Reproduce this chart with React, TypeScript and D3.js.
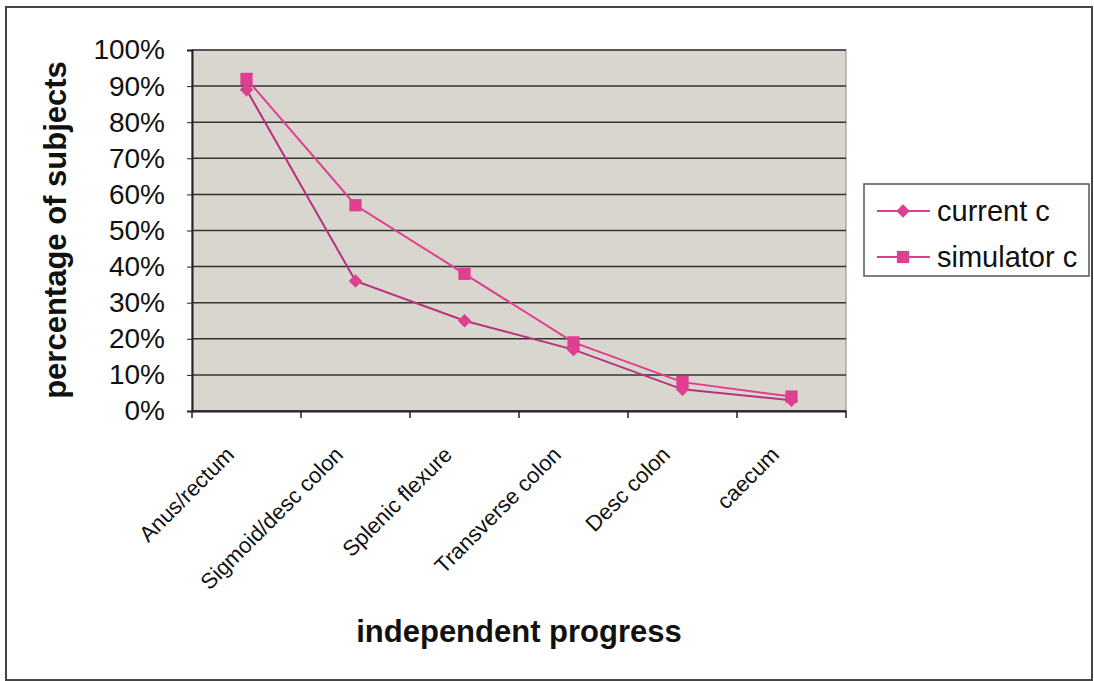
import * as React from "react";
import * as d3 from "d3";

const categories = ["Anus/rectum", "Sigmoid/desc colon", "Splenic flexure", "Transverse colon", "Desc colon", "caecum"];
const currentC = [89, 36, 25, 17, 6, 3];
const simulatorC = [92, 57, 38, 19, 8, 4];
const yTicks = [0, 10, 20, 30, 40, 50, 60, 70, 80, 90, 100];

const W = 1094, H = 681;
const margin = { left: 192, top: 50, right: 248, bottom: 270 };
const pink = "#de3f8e";
const font = "Arial, 'Liberation Sans', sans-serif";

export default function App() {
  const ref = React.useRef<SVGSVGElement>(null);

  React.useEffect(() => {
    const svg = d3.select(ref.current);
    svg.selectAll("*").remove();
    const pw = W - margin.left - margin.right;
    const ph = H - margin.top - margin.bottom;

    // outer frame
    svg.append("rect").attr("x", 6).attr("y", 7).attr("width", 1086).attr("height", 673)
      .attr("fill", "#fff").attr("stroke", "#444").attr("stroke-width", 2);

    const x = d3.scaleBand().domain(categories).range([0, pw]);
    const y = d3.scaleLinear().domain([0, 100]).range([ph, 0]);

    const g = svg.append("g").attr("transform", `translate(${margin.left},${margin.top})`);

    g.append("rect").attr("width", pw).attr("height", ph).attr("fill", "#d9d6cf")
      .attr("stroke", "#888").attr("stroke-width", 1);

    // gridlines
    g.selectAll(".grid").data(yTicks).enter().append("line")
      .attr("x1", 0).attr("x2", pw).attr("y1", d => y(d)).attr("y2", d => y(d))
      .attr("stroke", "#333").attr("stroke-width", 1.5);

    // y axis
    const yAxis = g.append("g").call(d3.axisLeft(y).tickValues(yTicks).tickSize(5).tickFormat(d => d + "%"));
    yAxis.select(".domain").attr("stroke", "#222").attr("stroke-width", 2);
    yAxis.selectAll("line").attr("stroke", "#222");
    yAxis.selectAll("text").attr("font-family", font)
      .attr("font-size", 28).attr("fill", "#111").attr("dx", -19);

    // x axis
    const xAxis = g.append("g").attr("transform", `translate(0,${ph})`)
      .call(d3.axisBottom(x).tickSize(0).tickFormat(() => ""));
    xAxis.select(".domain").attr("stroke", "#222").attr("stroke-width", 2);
    const bounds = d3.range(categories.length + 1).map(i => i * x.bandwidth());
    xAxis.selectAll(".bt").data(bounds).enter().append("line")
      .attr("x1", d => d).attr("x2", d => d).attr("y1", 0).attr("y2", 7)
      .attr("stroke", "#222").attr("stroke-width", 1.5);
    g.selectAll(".xl").data(categories).enter().append("text")
      .attr("transform", d => `translate(${(x(d) as number) + x.bandwidth() / 2 - 11},${ph + 45}) rotate(-45)`)
      .attr("text-anchor", "end")
      .attr("font-family", font).attr("font-size", 22).attr("fill", "#111")
      .text(d => d);

    const cx = (i: number) => (x(categories[i]) as number) + x.bandwidth() / 2;
    const line = d3.line<number>().x((_, i) => cx(i)).y(d => y(d));

    g.append("path").datum(simulatorC).attr("d", line).attr("fill", "none").attr("stroke", pink).attr("stroke-width", 2);
    g.append("path").datum(currentC).attr("d", line).attr("fill", "none").attr("stroke", "#b8337f").attr("stroke-width", 2);

    const sq = d3.symbol().type(d3.symbolSquare).size(150);
    const di = d3.symbol().type(d3.symbolSquare).size(90);
    g.selectAll(".sm").data(simulatorC).enter().append("path")
      .attr("d", sq).attr("transform", (d, i) => `translate(${cx(i)},${y(d)})`).attr("fill", pink);
    g.selectAll(".cm").data(currentC).enter().append("path")
      .attr("d", di).attr("transform", (d, i) => `translate(${cx(i)},${y(d)}) rotate(45)`).attr("fill", pink);

    // axis titles
    svg.append("text").attr("transform", `translate(66,230) rotate(-90)`).attr("text-anchor", "middle")
      .attr("font-family", font).attr("font-weight", "bold").attr("font-size", 31)
      .attr("fill", "#111").text("percentage of subjects");
    svg.append("text").attr("x", 519).attr("y", 642).attr("text-anchor", "middle")
      .attr("font-family", font).attr("font-weight", "bold").attr("font-size", 31)
      .attr("fill", "#111").text("independent progress");

    // legend
    const lg = svg.append("g").attr("transform", "translate(864,184)");
    lg.append("rect").attr("width", 225).attr("height", 92).attr("fill", "#fff").attr("stroke", "#555").attr("stroke-width", 1.5);
    const items = [{ name: "current c", sym: di, rot: 45 }, { name: "simulator c", sym: sq, rot: 0 }];
    items.forEach((it, i) => {
      const yy = 27 + i * 46;
      lg.append("line").attr("x1", 13).attr("x2", 66).attr("y1", yy).attr("y2", yy).attr("stroke", pink).attr("stroke-width", 2);
      lg.append("path").attr("d", it.sym).attr("transform", `translate(39,${yy}) rotate(${it.rot})`).attr("fill", pink);
      lg.append("text").attr("x", 73).attr("y", yy + 10)
        .attr("font-family", font).attr("font-size", 29).attr("fill", "#111")
        .text(it.name);
    });
  }, []);

  return (
    <div style={{ position: "fixed", left: 0, top: 0 }}>
      <svg ref={ref} width={W} height={H} style={{ display: "block", background: "#fff" }} />
    </div>
  );
}
